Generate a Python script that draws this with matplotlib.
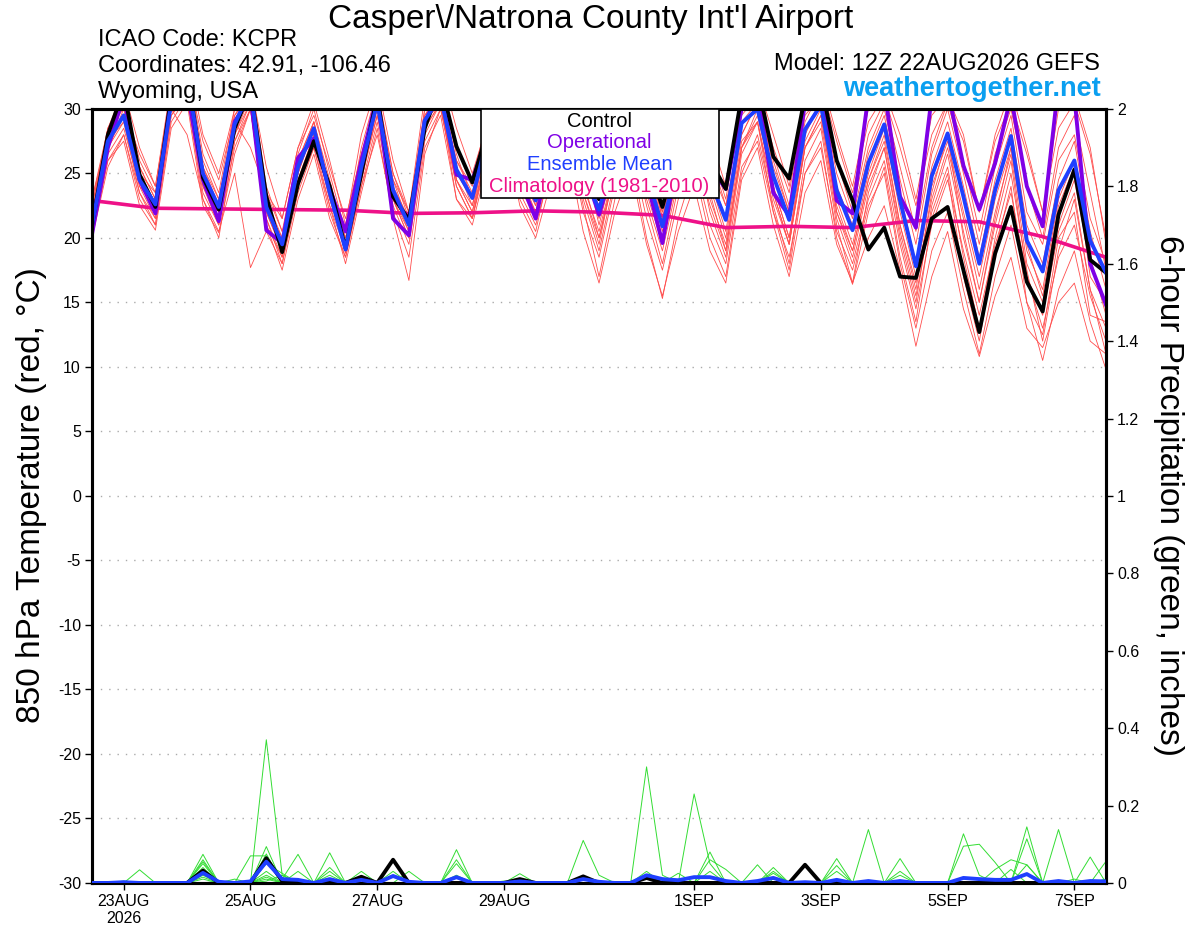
import matplotlib
matplotlib.use("Agg")
import matplotlib.pyplot as plt
import matplotlib.dates as mdates
from matplotlib.patches import Rectangle
import pandas as pd

plt.rcParams['font.family'] = ['Liberation Sans', 'DejaVu Sans']

# 6-hourly GEFS steps from 12Z 22AUG2026, climatology once a day
times = pd.date_range("2026-08-22 12:00", periods=65, freq="6h")
clim_times = pd.date_range("2026-08-22 12:00", periods=17, freq="24h")

tick_dates = pd.to_datetime(["2026-08-23", "2026-08-25", "2026-08-27", "2026-08-29",
                             "2026-09-01", "2026-09-03", "2026-09-05", "2026-09-07"])
tick_labels = ["23AUG\n2026", "25AUG", "27AUG", "29AUG", "1SEP", "3SEP", "5SEP", "7SEP"]

temp_ticks = [30, 25, 20, 15, 10, 5, 0, -5, -10, -15, -20, -25, -30]
precip_ticks = [2, 1.8, 1.6, 1.4, 1.2, 1, 0.8, 0.6, 0.4, 0.2, 0]
precip_labels = ["2", "1.8", "1.6", "1.4", "1.2", "1", "0.8", "0.6", "0.4", "0.2", "0"]

# 850 hPa temperature (C)
ens_mean = [21.0, 27.5, 29.5, 24.5, 22.6, 30.5, 32.5, 25.0, 22.4, 28.8,
            31.5, 22.4, 19.5, 25.5, 28.5, 23.5, 19.1, 25.5, 30.5, 23.7,
            21.0, 29.1, 31.0, 25.3, 23.1, 28.0, 30.5, 25.5, 22.9, 27.5,
            29.5, 25.0, 22.2, 26.5, 29.0, 25.0, 20.9, 26.0, 28.5, 24.5,
            21.4, 28.9, 30.0, 24.8, 21.4, 28.4, 30.3, 23.7, 20.6, 25.8,
            28.8, 22.9, 17.8, 24.8, 28.1, 23.2, 18.0, 23.7, 27.9, 19.8,
            17.4, 23.7, 26.0, 19.8, 17.3]
control = [21.0, 28.0, 31.5, 24.9, 22.4, 31.0, 33.0, 24.7, 22.2, 28.5,
           31.5, 23.2, 18.9, 24.2, 27.5, 24.0, 19.2, 25.0, 31.0, 23.2,
           21.4, 28.5, 32.0, 27.1, 24.3, 28.5, 31.0, 26.5, 23.5, 28.0,
           30.5, 26.0, 23.0, 27.0, 30.0, 26.0, 22.4, 27.0, 30.0, 26.0,
           23.8, 31.0, 32.0, 26.3, 24.6, 31.0, 32.0, 26.0, 22.9, 19.1,
           20.8, 17.0, 16.9, 21.5, 22.4, 17.5, 12.7, 18.8, 22.4, 16.6,
           14.3, 21.8, 25.3, 18.3, 17.3]
operational = [20.3, 27.0, 31.0, 24.5, 21.9, 31.0, 31.5, 24.5, 21.3, 29.0,
               31.0, 20.6, 19.6, 26.2, 27.7, 23.8, 20.5, 26.0, 31.0, 21.5,
               20.2, 29.0, 31.5, 24.9, 24.5, 28.0, 30.5, 24.5, 21.5, 27.0,
               30.0, 25.5, 21.8, 26.0, 29.5, 24.5, 19.6, 26.5, 29.5, 25.5,
               23.8, 30.0, 31.5, 23.5, 21.7, 30.5, 32.0, 22.9, 21.9, 31.0,
               31.5, 23.2, 20.8, 31.0, 31.5, 25.6, 22.2, 25.8, 31.0, 24.0,
               20.9, 32.0, 31.0, 18.0, 14.8]
climatology = [22.9, 22.3, 22.25, 22.2, 22.15, 21.9, 21.95, 22.1, 22.0,
               21.75, 20.8, 20.9, 20.8, 21.35, 21.25, 20.1, 18.5]

members = [
    [22.5, 28.5, 31.0, 26.0, 23.5, 31.5, 33.5, 26.5, 23.5, 30.0,
     32.5, 24.0, 20.5, 26.5, 30.0, 25.0, 20.5, 27.0, 31.5, 25.0,
     22.0, 30.0, 32.0, 27.0, 24.5, 29.5, 31.5, 27.0, 24.0, 29.0,
     31.0, 27.0, 23.5, 28.0, 31.0, 27.0, 22.0, 28.0, 30.5, 27.0,
     23.0, 30.5, 31.5, 27.0, 23.5, 30.5, 32.0, 27.5, 23.5, 29.0,
     31.0, 27.0, 22.5, 28.0, 30.5, 27.5, 22.0, 27.5, 30.5, 26.5,
     22.0, 28.5, 30.5, 26.5, 20.0],
    [20.0, 26.0, 28.0, 23.0, 21.0, 29.0, 31.0, 23.5, 21.0, 27.0,
     30.0, 21.0, 18.5, 24.0, 27.0, 22.0, 18.5, 24.0, 29.0, 22.5,
     19.5, 27.5, 30.0, 24.0, 21.5, 26.5, 29.0, 23.5, 21.0, 25.5,
     28.0, 22.0, 18.5, 24.0, 27.0, 21.5, 17.5, 23.0, 26.0, 21.0,
     18.0, 25.5, 27.5, 22.0, 18.5, 25.0, 27.0, 20.5, 17.5, 22.5,
     25.0, 18.0, 13.0, 19.0, 22.0, 16.0, 11.0, 17.0, 21.0, 15.0,
     10.5, 16.0, 19.0, 13.5, 9.8],
    [21.5, 27.0, 29.0, 25.5, 23.0, 30.0, 28.0, 23.0, 20.5, 25.0,
     17.7, 20.5, 18.0, 24.5, 28.0, 23.0, 19.5, 26.0, 30.0, 24.0,
     21.5, 29.5, 31.5, 26.0, 23.5, 28.5, 30.0, 25.0, 22.0, 27.0,
     29.0, 24.0, 20.5, 25.5, 28.0, 24.0, 20.0, 25.0, 28.0, 24.0,
     20.0, 27.5, 29.0, 23.0, 19.5, 27.0, 29.5, 22.5, 19.0, 24.5,
     27.5, 21.0, 16.5, 23.0, 27.0, 21.5, 16.0, 22.0, 26.5, 18.0,
     15.0, 21.0, 24.5, 18.0, 15.0],
    [23.0, 28.0, 30.5, 25.0, 22.0, 31.0, 33.0, 27.5, 24.5, 29.5,
     31.0, 23.0, 20.0, 26.0, 29.0, 24.5, 20.0, 25.0, 31.0, 23.0,
     20.5, 28.5, 31.5, 25.5, 22.5, 27.5, 31.0, 26.0, 23.5, 28.5,
     30.5, 25.5, 22.5, 27.5, 30.5, 26.5, 21.5, 27.0, 29.5, 25.0,
     21.5, 29.5, 31.0, 25.5, 22.0, 29.0, 31.5, 25.0, 21.5, 27.0,
     30.0, 24.5, 19.5, 26.5, 30.0, 25.0, 19.5, 25.5, 29.5, 22.0,
     19.5, 26.0, 28.0, 21.5, 18.0],
    [20.5, 26.5, 28.5, 24.0, 22.5, 30.5, 32.0, 24.5, 22.0, 28.0,
     31.0, 22.5, 19.0, 25.0, 28.5, 23.5, 18.8, 25.5, 30.5, 24.5,
     21.0, 29.0, 30.5, 24.5, 22.5, 28.0, 30.5, 25.5, 23.0, 27.5,
     29.5, 23.5, 20.0, 25.0, 28.0, 23.0, 19.0, 24.5, 27.5, 23.0,
     19.5, 27.0, 29.5, 24.0, 20.0, 27.0, 29.0, 21.5, 18.0, 23.0,
     26.0, 19.5, 14.5, 21.0, 24.5, 19.0, 14.0, 19.5, 23.5, 17.0,
     13.0, 18.5, 21.0, 15.5, 12.0],
    [21.0, 27.0, 29.5, 24.0, 21.5, 30.0, 32.0, 24.0, 21.5, 28.5,
     31.0, 22.0, 19.0, 24.5, 27.5, 22.5, 18.0, 23.5, 28.5, 21.5,
     16.7, 26.5, 30.0, 24.5, 22.0, 27.0, 29.5, 23.0, 20.5, 26.0,
     28.5, 22.5, 17.0, 23.0, 26.5, 20.0, 15.3, 21.5, 25.5, 20.0,
     17.0, 25.0, 28.0, 22.5, 18.0, 26.0, 28.5, 21.0, 16.5, 23.5,
     27.0, 20.5, 15.5, 22.0, 25.5, 18.5, 13.0, 20.0, 25.0, 17.5,
     12.0, 19.0, 23.0, 16.0, 11.0],
    [22.0, 28.5, 30.0, 26.5, 24.0, 32.0, 34.0, 28.0, 25.0, 30.0,
     32.0, 25.5, 21.5, 27.0, 30.5, 26.0, 21.0, 28.0, 32.0, 26.0,
     22.0, 31.0, 33.0, 28.5, 25.0, 29.0, 32.0, 28.0, 24.0, 29.5,
     31.5, 27.5, 22.0, 27.0, 31.0, 26.5, 21.0, 28.0, 31.0, 28.0,
     24.0, 31.0, 32.0, 28.0, 24.0, 31.0, 32.5, 28.0, 24.0, 30.0,
     31.5, 28.0, 23.0, 29.5, 31.0, 28.0, 22.0, 28.0, 31.5, 27.0,
     22.0, 30.0, 31.0, 27.0, 19.5],
    [21.5, 27.5, 29.0, 23.5, 21.0, 29.5, 31.0, 23.0, 20.0, 27.5,
     30.5, 21.5, 18.5, 25.0, 29.0, 24.0, 19.5, 26.5, 30.0, 23.5,
     20.5, 28.5, 30.5, 23.0, 21.0, 26.0, 28.5, 22.5, 20.0, 24.5,
     27.0, 20.5, 16.5, 22.0, 25.5, 19.5, 15.5, 20.5, 24.0, 19.0,
     16.5, 24.5, 27.0, 21.0, 17.0, 23.5, 26.0, 19.5, 16.5, 20.0,
     22.5, 17.5, 11.6, 17.0, 20.5, 14.5, 10.8, 15.5, 18.5, 13.0,
     11.5, 15.0, 16.5, 12.0, 11.0],
    [22.5, 28.0, 29.5, 25.0, 23.5, 30.5, 32.5, 25.5, 23.0, 29.0,
     27.0, 23.5, 20.5, 24.0, 28.0, 23.0, 20.0, 25.0, 29.5, 24.5,
     22.0, 29.5, 31.0, 26.0, 24.0, 28.5, 31.0, 26.5, 23.5, 28.0,
     30.0, 26.0, 21.5, 26.0, 29.5, 25.5, 22.0, 26.5, 28.0, 25.5,
     22.5, 28.0, 30.5, 26.5, 22.5, 28.5, 30.5, 24.0, 21.0, 26.5,
     29.5, 23.5, 18.0, 25.5, 29.0, 24.0, 18.5, 24.5, 28.5, 21.0,
     18.0, 24.5, 27.5, 20.5, 16.0],
    [20.5, 26.0, 27.5, 22.5, 20.6, 28.5, 30.5, 22.5, 20.4, 26.5,
     30.0, 21.0, 17.5, 23.0, 26.5, 21.5, 18.5, 24.0, 28.0, 22.0,
     18.5, 27.0, 29.5, 23.0, 21.5, 27.0, 29.0, 24.0, 21.5, 26.5,
     28.5, 23.5, 19.5, 25.5, 28.5, 23.5, 19.5, 25.0, 28.0, 22.0,
     18.5, 26.5, 29.0, 22.0, 17.5, 25.0, 27.5, 20.0, 16.4, 22.0,
     25.5, 18.5, 13.5, 21.5, 25.0, 17.0, 12.0, 19.0, 24.0, 15.0,
     12.5, 20.0, 22.0, 14.0, 13.5],
    [23.0, 28.5, 31.5, 27.0, 24.0, 31.5, 33.0, 26.0, 23.0, 29.5,
     31.5, 23.5, 21.5, 27.0, 29.5, 25.5, 21.5, 26.5, 31.0, 25.0,
     21.5, 30.0, 32.0, 26.5, 23.0, 28.5, 30.0, 26.0, 22.5, 27.5,
     30.5, 26.5, 21.0, 26.0, 30.0, 27.0, 21.5, 27.0, 30.0, 26.5,
     22.5, 29.0, 30.5, 26.0, 22.0, 29.5, 31.0, 26.0, 22.0, 28.0,
     30.5, 25.5, 20.5, 27.0, 30.5, 26.0, 20.5, 26.5, 30.0, 24.0,
     20.0, 27.0, 29.5, 23.5, 17.5],
    [21.0, 27.0, 30.0, 24.5, 22.0, 30.0, 32.0, 24.0, 21.0, 28.0,
     30.5, 22.0, 19.0, 26.0, 29.0, 23.0, 19.0, 25.5, 30.5, 23.0,
     20.0, 29.0, 31.0, 24.5, 22.0, 28.0, 30.5, 24.5, 21.5, 27.0,
     29.5, 24.5, 20.0, 25.5, 28.5, 24.5, 20.5, 26.5, 29.0, 23.5,
     19.0, 27.0, 30.0, 23.5, 19.5, 27.5, 30.0, 22.0, 19.0, 24.5,
     28.0, 21.0, 16.0, 23.5, 28.0, 20.0, 15.0, 21.5, 27.0, 19.5,
     15.5, 22.5, 25.5, 18.5, 14.0],
    [22.0, 27.5, 30.5, 25.5, 23.0, 31.0, 33.0, 25.5, 22.5, 29.0,
     31.0, 22.5, 20.0, 25.0, 28.5, 24.0, 19.5, 24.5, 30.0, 23.5,
     21.0, 28.5, 30.5, 25.0, 23.0, 27.5, 29.5, 25.0, 22.5, 27.0,
     29.0, 25.0, 22.0, 27.0, 29.5, 24.0, 20.0, 26.0, 29.0, 24.5,
     20.5, 28.0, 30.5, 24.0, 20.0, 28.0, 30.5, 23.0, 19.5, 25.0,
     28.5, 22.0, 17.0, 24.0, 27.5, 22.0, 17.0, 23.0, 27.0, 19.0,
     16.0, 23.0, 26.0, 17.0, 15.0],
    [20.0, 25.5, 28.0, 23.5, 21.5, 29.5, 31.5, 24.5, 22.0, 27.5,
     30.0, 21.5, 18.0, 23.5, 27.0, 22.5, 19.0, 24.5, 29.5, 23.0,
     20.0, 28.0, 30.5, 24.0, 21.5, 27.5, 30.0, 24.5, 22.0, 27.0,
     29.0, 23.0, 19.0, 24.5, 28.0, 22.5, 18.0, 24.0, 27.0, 22.5,
     19.0, 27.0, 29.0, 23.5, 19.5, 27.0, 29.5, 22.0, 18.5, 24.0,
     27.0, 20.0, 15.0, 22.5, 26.5, 20.5, 15.0, 21.0, 26.0, 17.0,
     14.0, 20.5, 23.5, 16.0, 13.0],
]

# 6-hour precipitation (inches)
precip_mean = [0, 0, 0.002, 0, 0, 0, 0, 0.026, 0.003, 0,
               0.004, 0.055, 0.01, 0.008, 0, 0.01, 0, 0.008, 0, 0.018,
               0.003, 0, 0, 0.015, 0, 0, 0, 0.004, 0, 0,
               0, 0.01, 0.003, 0, 0, 0.02, 0.01, 0.007, 0.015, 0.015,
               0.005, 0, 0.005, 0.013, 0, 0.002, 0, 0.008, 0, 0.005,
               0, 0.005, 0, 0, 0, 0.013, 0.01, 0.008, 0.008, 0.023,
               0, 0.005, 0, 0.005, 0.004]
precip_control = [0, 0, 0, 0, 0, 0, 0, 0.032, 0, 0,
                  0, 0.064, 0.005, 0, 0, 0, 0, 0.016, 0, 0.06,
                  0, 0, 0, 0, 0, 0, 0, 0.01, 0, 0,
                  0, 0.017, 0, 0, 0, 0.013, 0, 0, 0, 0,
                  0, 0, 0, 0, 0, 0.047, 0, 0, 0, 0,
                  0, 0, 0, 0, 0, 0, 0, 0, 0, 0,
                  0, 0, 0, 0, 0]
precip_members = [
    [0, 0, 0.005, 0, 0, 0, 0, 0.074, 0, 0,
     0, 0.37, 0.02, 0, 0, 0, 0, 0, 0, 0,
     0, 0, 0, 0, 0, 0, 0, 0, 0, 0,
     0, 0.11, 0.02, 0, 0, 0, 0, 0, 0, 0,
     0, 0, 0, 0, 0, 0, 0, 0, 0, 0.138,
     0, 0, 0, 0, 0, 0, 0, 0, 0, 0.047,
     0, 0, 0, 0, 0],
    [0, 0, 0, 0.034, 0, 0, 0, 0.06, 0, 0,
     0, 0.094, 0, 0, 0, 0.078, 0, 0, 0, 0,
     0, 0, 0, 0, 0, 0, 0, 0, 0, 0,
     0, 0, 0, 0, 0, 0.30, 0.02, 0, 0, 0,
     0, 0, 0, 0, 0, 0, 0, 0, 0, 0,
     0, 0, 0, 0, 0, 0.127, 0.02, 0, 0, 0.145,
     0, 0, 0, 0, 0],
    [0, 0, 0, 0, 0, 0, 0, 0.055, 0, 0,
     0.07, 0.07, 0.01, 0.074, 0, 0, 0, 0, 0, 0,
     0, 0, 0, 0.086, 0, 0, 0, 0, 0, 0,
     0, 0, 0, 0, 0, 0, 0, 0, 0.23, 0.05,
     0, 0, 0, 0, 0, 0, 0, 0, 0, 0,
     0, 0, 0, 0, 0, 0, 0, 0, 0, 0,
     0, 0.138, 0, 0, 0],
    [0, 0, 0, 0, 0, 0, 0, 0.05, 0, 0,
     0, 0.075, 0, 0, 0, 0.04, 0, 0, 0, 0.06,
     0, 0, 0, 0, 0, 0, 0, 0, 0, 0,
     0, 0, 0, 0, 0, 0, 0, 0, 0, 0.08,
     0, 0, 0, 0, 0, 0, 0, 0.063, 0, 0,
     0, 0, 0, 0, 0, 0.095, 0.1, 0.053, 0, 0,
     0, 0, 0, 0, 0],
    [0, 0, 0, 0, 0, 0, 0, 0.04, 0, 0,
     0, 0.05, 0.025, 0, 0, 0, 0, 0.03, 0, 0,
     0, 0, 0, 0.06, 0, 0, 0, 0, 0, 0,
     0, 0, 0, 0, 0, 0, 0, 0, 0, 0.06,
     0.035, 0, 0, 0.04, 0, 0, 0, 0, 0, 0,
     0, 0.063, 0, 0, 0, 0, 0, 0, 0, 0.114,
     0, 0, 0, 0, 0],
    [0, 0, 0, 0, 0, 0, 0, 0.03, 0, 0,
     0, 0.03, 0, 0.03, 0, 0.03, 0, 0, 0, 0,
     0.03, 0, 0, 0, 0, 0, 0, 0, 0, 0,
     0, 0, 0, 0, 0, 0, 0, 0.025, 0, 0,
     0, 0, 0.047, 0, 0, 0, 0, 0, 0, 0,
     0, 0, 0, 0, 0, 0, 0, 0.035, 0.06, 0.047,
     0, 0, 0, 0.067, 0],
    [0, 0, 0, 0, 0, 0, 0, 0.02, 0, 0.01,
     0, 0.02, 0, 0, 0, 0, 0, 0, 0, 0.03,
     0, 0, 0, 0.05, 0, 0, 0, 0.024, 0, 0,
     0, 0, 0, 0, 0, 0.03, 0, 0, 0, 0,
     0, 0, 0, 0.03, 0, 0, 0, 0.045, 0, 0,
     0, 0.03, 0, 0, 0, 0, 0, 0, 0.035, 0,
     0, 0, 0, 0, 0.056],
    [0, 0, 0, 0, 0, 0, 0, 0.015, 0, 0,
     0, 0.015, 0, 0, 0, 0.02, 0, 0, 0, 0.02,
     0, 0, 0, 0.02, 0, 0, 0, 0, 0, 0,
     0, 0, 0, 0, 0, 0.02, 0, 0, 0, 0.03,
     0, 0, 0, 0.025, 0, 0, 0, 0.03, 0, 0,
     0, 0.02, 0, 0, 0, 0, 0, 0, 0, 0,
     0, 0, 0.01, 0, 0.01],
    [0, 0, 0, 0, 0.003, 0, 0, 0, 0.005, 0,
     0, 0.01, 0, 0, 0, 0, 0, 0.015, 0, 0,
     0, 0, 0, 0, 0, 0, 0.005, 0, 0, 0,
     0, 0, 0, 0, 0, 0, 0, 0, 0, 0,
     0, 0, 0, 0, 0.005, 0, 0, 0, 0, 0,
     0, 0, 0.003, 0, 0, 0, 0, 0, 0, 0,
     0, 0, 0, 0, 0],
    [0, 0, 0, 0, 0, 0, 0, 0.01, 0, 0,
     0, 0.005, 0.02, 0, 0, 0, 0.005, 0, 0, 0,
     0, 0, 0, 0, 0, 0, 0, 0, 0, 0,
     0, 0, 0, 0.003, 0, 0, 0, 0, 0, 0,
     0, 0, 0, 0, 0, 0, 0, 0, 0, 0,
     0, 0, 0, 0, 0, 0, 0, 0, 0, 0,
     0, 0, 0, 0, 0],
]

RED = "#ff4d4d"
GREEN = "#33dd33"
PURPLE = "#7f00e6"
BLUE = "#1f3fff"
MAGENTA = "#ee1188"

fig = plt.figure(figsize=(12, 9.27), dpi=100)
ax = fig.add_axes([0.0767, 0.0475, 0.845, 0.835])
ax2 = ax.twinx()

for m in members:
    ax.plot(times, m, color=RED, lw=0.6, zorder=1)
ax.plot(clim_times, climatology, color=MAGENTA, lw=2.6, zorder=2)
ax.plot(times, operational, color=PURPLE, lw=2.8, zorder=3)
ax.plot(times, control, color="black", lw=2.8, zorder=4)
ax.plot(times, ens_mean, color=BLUE, lw=2.8, zorder=5)

for p in precip_members:
    ax2.plot(times, p, color=GREEN, lw=0.7, zorder=1)
ax2.plot(times, precip_control, color="black", lw=2.8, zorder=4)
ax2.plot(times, precip_mean, color=BLUE, lw=2.8, zorder=5)

ax.set_xlim(times[0], times[-1])
ax.set_ylim(-30, 30)
ax2.set_ylim(0, 2)

ax.set_yticks(temp_ticks)
ax.set_yticklabels([str(t) for t in temp_ticks])
ax2.set_yticks(precip_ticks)
ax2.set_yticklabels(precip_labels)
ax.set_xticks(tick_dates)
ax.set_xticklabels(tick_labels)

for t in temp_ticks[1:-1]:
    ax.axhline(t, color="#aaaaaa", lw=1.0, ls=(0, (1, 5)), zorder=0)

for a in (ax, ax2):
    for s in a.spines.values():
        s.set_linewidth(2.2)
    a.tick_params(direction="out", length=5, width=1, labelsize=11.5, pad=3)

fig.text(0.026, 0.466, "850 hPa Temperature (red, °C)", rotation=90,
         ha="center", va="center", fontsize=24)
fig.text(0.974, 0.465, "6-hour Precipitation (green, inches)", rotation=270,
         ha="center", va="center", fontsize=24)

fig.text(0.4925, 0.9795, "Casper\\/Natrona County Int'l Airport",
         ha="center", va="center", fontsize=24)
fig.text(0.0817, 0.9569, "ICAO Code: KCPR", ha="left", va="center", fontsize=17)
fig.text(0.0817, 0.9288, "Coordinates: 42.91, -106.46", ha="left", va="center", fontsize=17)
fig.text(0.0817, 0.9008, "Wyoming, USA", ha="left", va="center", fontsize=17)
fig.text(0.9167, 0.931, "Model: 12Z 22AUG2026 GEFS", ha="right", va="center", fontsize=17)
fig.text(0.9175, 0.904, "weathertogether.net", ha="right", va="center",
         fontsize=19.5, fontweight="bold", color="#0a9ff0")

# legend box in the top middle of the plot
ax2.add_patch(Rectangle((0.3836, 0.885), 0.2347, 0.115, transform=ax2.transAxes,
                        facecolor="white", edgecolor="black", lw=1.2, zorder=10))
leg = [("Control", "black", 0.9835), ("Operational", PURPLE, 0.956),
       ("Ensemble Mean", BLUE, 0.928), ("Climatology (1981-2010)", MAGENTA, 0.8995)]
for txt, col, yy in leg:
    ax2.text(0.5003, yy, txt, color=col, transform=ax2.transAxes, ha="center",
             va="center", fontsize=14.5, zorder=11)

fig.savefig("out.png", dpi=100)
